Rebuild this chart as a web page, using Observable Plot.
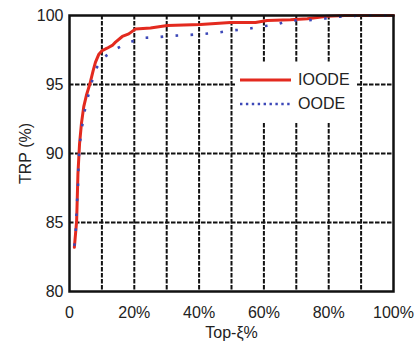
<!DOCTYPE html>
<html>
<head>
<meta charset="utf-8">
<script src="https://cdn.jsdelivr.net/npm/d3@7"></script>
<script src="https://cdn.jsdelivr.net/npm/@observablehq/plot@0.6"></script>
<style>
  html, body { margin: 0; padding: 0; background: #fff; }
  #wrap { position: relative; width: 419px; height: 347px; font-family: "Liberation Sans", Arial, sans-serif; }
  #legend { position: absolute; left: 235px; top: 63px; width: 122px; height: 59px; background: #fff; }
  .row { position: absolute; left: 5px; height: 20px; display: flex; align-items: center; font-size: 16px; color: #222; }
  .row svg { margin-right: 7px; }
</style>
</head>
<body>
<div id="wrap">
  <div id="chart"></div>
  <div id="legend"></div>
</div>
<script>
const seriesNames = ["IOODE", "OODE"];
const seriesColors = ["#e32a1f", "#3c48b8"];

const ioodeX = [1.5, 2.2, 2.6, 3.1, 3.7, 4.4, 5.2, 6.3, 7.3, 8.0, 9.0, 10.1, 11.6, 13.2, 14.2, 16.3, 18.3, 20.4, 25, 30.2, 40.4, 49.7, 57.4, 61, 68.2, 73.4, 79.5, 85, 90, 100];
const ioodeY = [83.2, 85.1, 88.5, 90.7, 92.2, 93.4, 94.2, 95.05, 96.0, 96.6, 97.17, 97.46, 97.63, 97.83, 98.07, 98.48, 98.67, 99.03, 99.1, 99.28, 99.35, 99.49, 99.49, 99.64, 99.69, 99.76, 99.95, 100, 100, 100];

const oodeX = [1.5, 1.9, 2.1, 2.3, 2.6, 2.7, 2.9, 3.2, 3.8, 4.5, 5.5, 6.7, 7.8, 10.4, 14.0, 18.1, 22.4, 27.1, 31.7, 36.1, 40.7, 45.3, 49.9, 54.5, 59, 63.6, 68, 72.5, 77.2, 81.6, 86.2, 90, 100];
const oodeY = [83.3, 84.25, 85.3, 86.4, 87.5, 88.57, 89.69, 90.75, 91.81, 92.88, 93.94, 95.0, 96.01, 96.93, 97.54, 98.02, 98.38, 98.43, 98.53, 98.58, 98.65, 98.74, 98.91, 99.01, 99.2, 99.32, 99.64, 99.64, 99.71, 99.88, 99.95, 100, 100];

const xTicks = [0, 20, 40, 60, 80, 100];
const yTicks = [80, 85, 90, 95, 100];
const xGrid = [10, 20, 30, 40, 50, 60, 70, 80, 90];
const yGrid = [85, 90, 95];

const ioode = ioodeX.map((x, i) => ({x, y: ioodeY[i]}));
const oode = oodeX.map((x, i) => ({x, y: oodeY[i]}));

const chart = Plot.plot({
  width: 419,
  height: 347,
  marginLeft: 69,
  marginRight: 26,
  marginTop: 15,
  marginBottom: 56,
  style: {fontSize: "16px", fontFamily: "Liberation Sans, Arial, sans-serif", color: "#222", background: "#fff"},
  x: {domain: [0, 100]},
  y: {domain: [80, 100]},
  marks: [
    Plot.ruleX(xGrid, {stroke: "#111", strokeWidth: 2, strokeDasharray: "4.5,1.5"}),
    Plot.ruleY(yGrid, {stroke: "#111", strokeWidth: 2, strokeDasharray: "4.5,1.5"}),
    Plot.axisX({ticks: xTicks, tickSize: 0, tickPadding: 15, tickFormat: d => d === 0 ? "0" : d + "%",
      label: "Top-ξ%", labelAnchor: "center", labelArrow: "none", labelOffset: 46}),
    Plot.axisY({ticks: yTicks, tickSize: 0, tickPadding: 6, label: "TRP (%)", labelAnchor: "center", labelArrow: "none", labelOffset: 50}),
    Plot.line(ioode, {x: "x", y: "y", stroke: seriesColors[0], strokeWidth: 3, curve: "linear"}),
    Plot.line(oode, {x: "x", y: "y", stroke: seriesColors[1], strokeWidth: 2.6, strokeDasharray: "2.6,12.4", strokeLinecap: "butt", curve: "linear"}),
    Plot.frame({stroke: "#111", strokeWidth: 2.5})
  ]
});
document.getElementById("chart").appendChild(chart);

const legend = document.getElementById("legend");
seriesNames.forEach((name, i) => {
  const row = document.createElement("div");
  row.className = "row";
  row.style.top = (i === 0 ? 7 : 31) + "px";
  const dash = i === 0 ? "" : `stroke-dasharray="2.4,3.5"`;
  const sw = i === 0 ? 3 : 2.6;
  row.innerHTML = `<svg width="51" height="6"><line x1="0" x2="51" y1="3" y2="3" stroke="${seriesColors[i]}" stroke-width="${sw}" ${dash}/></svg><span>${name}</span>`;
  legend.appendChild(row);
});
</script>
</body>
</html>
